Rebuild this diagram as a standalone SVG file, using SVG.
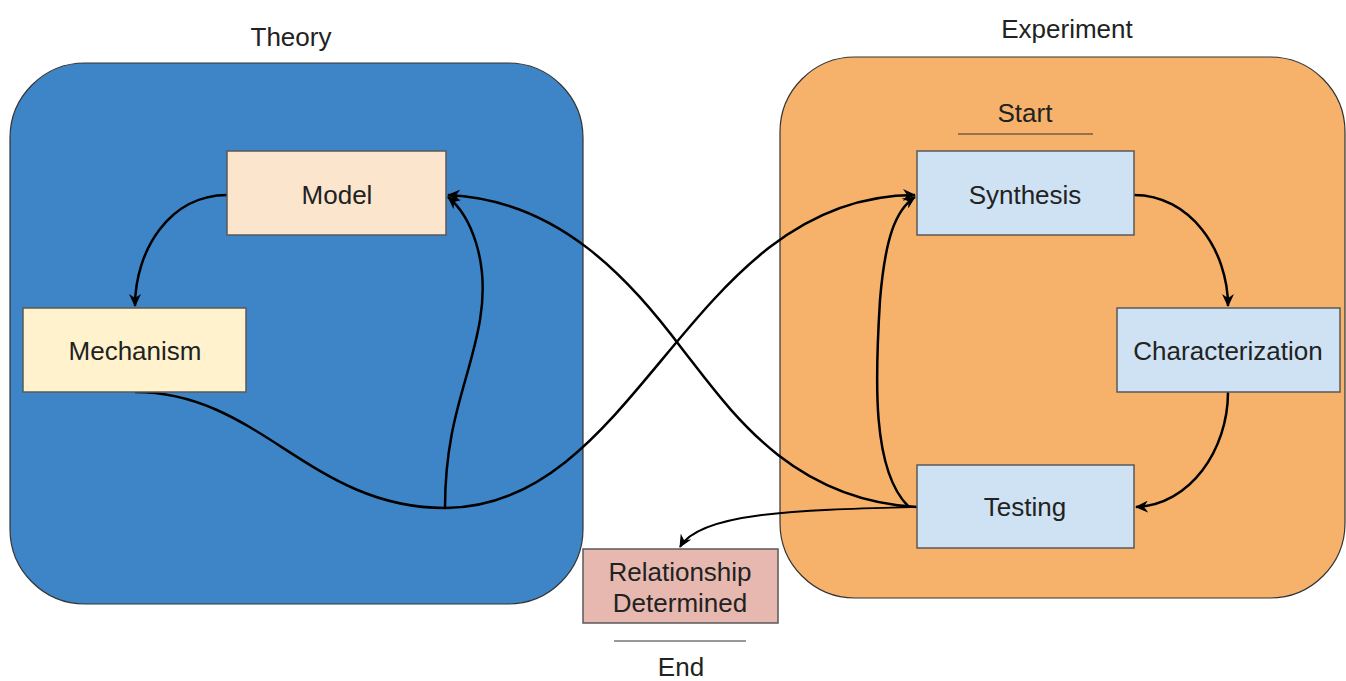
<svg xmlns="http://www.w3.org/2000/svg" width="1346" height="681" viewBox="0 0 1346 681">
<defs>
<marker id="arr" markerWidth="14" markerHeight="12" viewBox="0 0 14 12" refX="12" refY="6" orient="auto" markerUnits="userSpaceOnUse">
<path d="M0,0 L13,6 L0,12 L4,6 z" fill="#000"/>
</marker>
<style>
text{font-family:"Liberation Sans",Arial,sans-serif;font-size:26px;fill:#222;text-anchor:middle}
.node{stroke:#595959;stroke-width:1.5}
.group{stroke:#333;stroke-width:1.2}
.conn{fill:none;stroke:#000;stroke-width:2.5}
.thin{fill:none;stroke:#000;stroke-width:1.8}
.rule{stroke:#333;stroke-width:1.2}
</style>
</defs>
<rect width="1346" height="681" fill="#fff"/>
<g id="theory">
<rect class="group" x="10" y="63" width="573" height="541" rx="75" fill="#3d85c6"/>
<text x="291" y="46">Theory</text>
</g>
<g id="experiment">
<rect class="group" x="780" y="57" width="565" height="541" rx="75" fill="#f6b26b"/>
<text x="1067" y="38">Experiment</text>
</g>
<g id="start">
<text x="1025" y="122">Start</text>
<line class="rule" x1="958" y1="134" x2="1093" y2="134"/>
</g>
<g id="end">
<line class="rule" x1="614" y1="641" x2="746" y2="641"/>
<text x="681" y="676">End</text>
</g>
<g id="connectors">
<path class="conn" d="M227,195 C170,195 135,250 135,306" marker-end="url(#arr)"/>
<path class="conn" d="M135,392 C260,392 310,508 445,508 C640,508 690,195 915,195" marker-end="url(#arr)"/>
<path class="conn" d="M445,508 C445,420 470,380 480,320 C490,260 470,215 448,197" marker-end="url(#arr)"/>
<path class="conn" d="M917,507 C790,500 730,410 683,350 C630,280 560,200 448,195" marker-end="url(#arr)"/>
<path class="conn" d="M908,506 C872,470 875,380 880,300 C885,240 895,210 915,197" marker-end="url(#arr)"/>
<path class="conn" d="M1134,195 C1190,195 1228,250 1228,306" marker-end="url(#arr)"/>
<path class="conn" d="M1228,392 C1228,450 1190,505 1136,507" marker-end="url(#arr)"/>
<path class="thin" d="M917,507 C800,510 700,512 680,547" marker-end="url(#arr)"/>
</g>
<g id="model">
<rect class="node" x="227" y="151" width="219" height="84" fill="#fce5cd"/>
<text x="337" y="204">Model</text>
</g>
<g id="mechanism">
<rect class="node" x="23" y="308" width="223" height="84" fill="#fff2cc"/>
<text x="135" y="360">Mechanism</text>
</g>
<g id="synthesis">
<rect class="node" x="917" y="151" width="217" height="84" fill="#cfe2f3"/>
<text x="1025" y="204">Synthesis</text>
</g>
<g id="characterization">
<rect class="node" x="1117" y="308" width="223" height="84" fill="#cfe2f3"/>
<text x="1228" y="360">Characterization</text>
</g>
<g id="testing">
<rect class="node" x="917" y="465" width="217" height="83" fill="#cfe2f3"/>
<text x="1025" y="516">Testing</text>
</g>
<g id="relationship">
<rect class="node" x="583" y="549" width="195" height="74" fill="#e6b8af"/>
<text x="680" y="581">Relationship</text>
<text x="680" y="612">Determined</text>
</g>
</svg>
